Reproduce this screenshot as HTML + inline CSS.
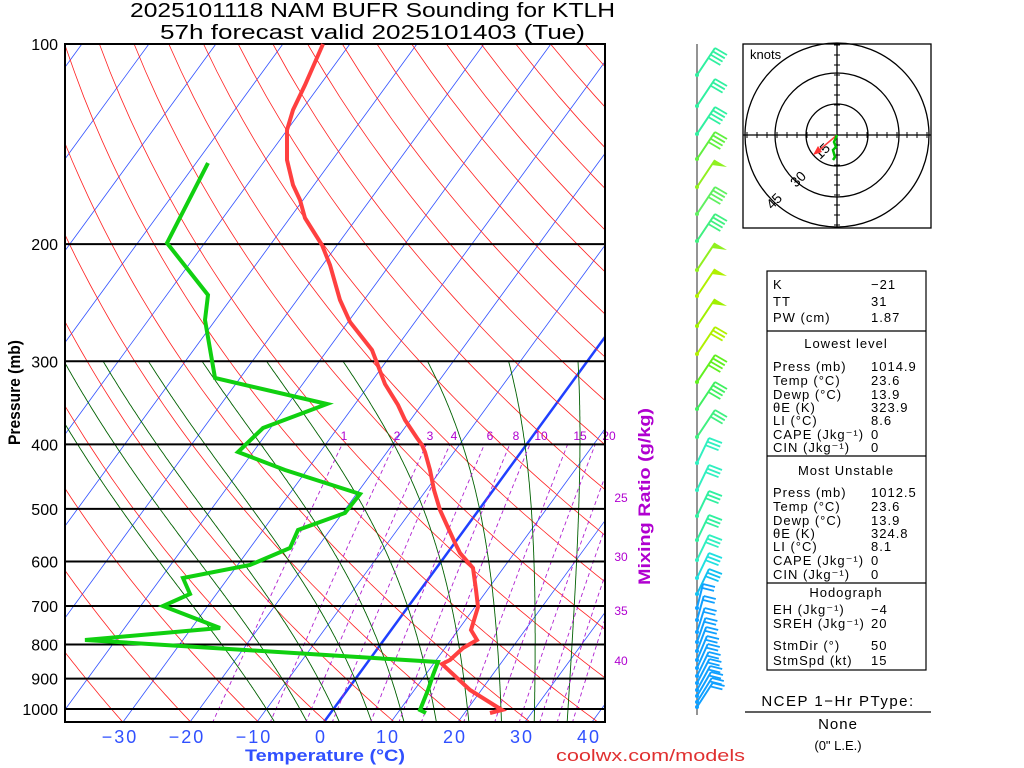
<!DOCTYPE html>
<html><head><meta charset="utf-8"><style>
html,body{margin:0;padding:0;background:#fff;}
svg{display:block;font-family:"Liberation Sans",sans-serif;}
</style></head><body>
<svg id="s" width="1024" height="768" viewBox="0 0 1024 768" xmlns="http://www.w3.org/2000/svg">
<defs><clipPath id="c"><rect x="65" y="44" width="540" height="678"/></clipPath></defs>
<rect width="1024" height="768" fill="#fff"/>
<g id="bg" clip-path="url(#c)"></g>
<g id="fg"></g>
<text x="130" y="17" font-size="20" textLength="485" lengthAdjust="spacingAndGlyphs">2025101118 NAM BUFR Sounding for KTLH</text>
<text x="160" y="39" font-size="20" textLength="425" lengthAdjust="spacingAndGlyphs">57h forecast valid 2025101403 (Tue)</text>
<text transform="translate(20,445) rotate(-90)" font-size="17" font-weight="bold" textLength="105" lengthAdjust="spacingAndGlyphs">Pressure (mb)</text>
<text x="245" y="761" font-size="17" font-weight="bold" fill="#3050ff" textLength="160" lengthAdjust="spacingAndGlyphs">Temperature (°C)</text>
<text x="556" y="761" font-size="17" fill="#e03030" textLength="189" lengthAdjust="spacingAndGlyphs">coolwx.com/models</text>
<text transform="translate(650,585) rotate(-90)" font-size="17" font-weight="bold" fill="#b000d0" textLength="177" lengthAdjust="spacingAndGlyphs">Mixing Ratio (g/kg)</text>
<g stroke="#000" fill="none" stroke-width="1.3">
<rect x="743" y="44" width="188" height="184"/>
<circle cx="837" cy="135" r="31"/><circle cx="837" cy="135" r="62"/><circle cx="837" cy="135" r="92"/>
<line x1="743" y1="135" x2="931" y2="135"/><line x1="837" y1="44" x2="837" y2="228"/>
</g>
<g id="hodt" stroke="#000" stroke-width="1"></g>
<text x="750" y="59" font-size="13">knots</text>
<text transform="translate(820,160) rotate(-45)" font-size="14">15</text>
<text transform="translate(796,188) rotate(-45)" font-size="14">30</text>
<text transform="translate(772,210) rotate(-45)" font-size="14">45</text>
<line x1="837" y1="135" x2="817" y2="152" stroke="#ff4040" stroke-width="1.5"/>
<polygon points="813,155 818,146 822,152" fill="#ff3030"/>
<polyline points="837,135 834,142 836,147 833,150 835,157 833,160" stroke="#00c000" stroke-width="2.5" fill="none"/>
<g stroke="#000" fill="none" stroke-width="1.2">
<rect x="767" y="271" width="159" height="399"/>
<line x1="767" y1="331" x2="926" y2="331"/><line x1="767" y1="456" x2="926" y2="456"/><line x1="767" y1="583" x2="926" y2="583"/>
<line x1="745" y1="712" x2="931" y2="712"/>
</g>
<g font-size="13" id="tbl"></g>
</svg>
<script>
const NS="http://www.w3.org/2000/svg";
const bg=document.getElementById('bg'),fg=document.getElementById('fg');
function el(p,t,a,txt){const e=document.createElementNS(NS,t);for(const k in a)e.setAttribute(k,a[k]);if(txt!==undefined)e.textContent=txt;p.appendChild(e);return e;}
const Y=p=>44+665*Math.log10(p/100);
const X=(T,p)=>324+6.7*T+0.73*(722-Y(p));
function pl(g,pts,st,w,da){el(g,'polyline',{points:pts.map(q=>q[0].toFixed(1)+','+q[1].toFixed(1)).join(' '),fill:'none',stroke:st,'stroke-width':w,...(da?{'stroke-dasharray':da}:{})});}
for(let T=-150;T<=50;T+=10){const pts=[[X(T,1050),Y(1050)],[X(T,100),Y(100)]];pl(bg,pts,T==0?'#2040ff':'#3050ff',T==0?2.5:0.8);}
for(let th=200;th<=560;th+=10){const pts=[];for(let p=1050;p>=100;p-=10){pts.push([X(th*Math.pow(p/1000,0.2857)-273.15,p),Y(p)]);}pl(bg,pts,'#ff2020',0.8);}
function es(T){return 6.112*Math.exp(17.67*T/(T+243.5));}
function ws(T,p){const e=es(T);return 0.622*e/(p-e);}
function dT(T,p){const Tk=T+273.15,w=ws(T,p),L=2.5e6,Rd=287,cp=1004,eps=0.622;
 const num=Rd*Tk+L*w, den=cp+L*L*w*eps/(Rd*Tk*Tk); return num/den/p;}
for(let T0=-10;T0<=35;T0+=5){let T=T0,p;const pts=[];
 let tt=T0;for(let pp=1000;pp<1050;pp++){tt+=dT(tt,pp);} pts.push([X(tt,1050),Y(1050)]);
 for(p=1000;p>=300;p-=2){pts.push([X(T,p),Y(p)]);T-=dT(T,p)*2;}
 pl(bg,pts,'#006000',0.9);}
const mrs=[1,2,3,4,6,8,10,15,20,25,30,35,40];
for(const w of mrs){const pts=[];for(let p=1050;p>=400;p-=10){const e=w*p/(622+w);const l=Math.log(e/6.112);const T=243.5*l/(17.67-l);pts.push([X(T,p),Y(p)]);}
 pl(bg,pts,'#b020d0',0.9,'4,3');}
[[1,344],[2,397],[3,430],[4,454],[6,490],[8,516],[10,541],[15,580],[20,609]].forEach(a=>el(fg,'text',{x:a[1],y:440,'font-size':12,fill:'#b000d0','text-anchor':'middle'},a[0]));
[[25,502],[30,561],[35,615],[40,665]].forEach(a=>el(fg,'text',{x:621,y:a[1],'font-size':12,fill:'#b000d0','text-anchor':'middle'},a[0]));
for(let p=100;p<=1000;p+=100){el(fg,'line',{x1:65,x2:605,y1:Y(p),y2:Y(p),stroke:'#000','stroke-width':2});
 if(p<=200||p>=300)el(fg,'text',{x:58,y:Y(p)+6,'font-size':16,'text-anchor':'end'},p);}
el(fg,'rect',{x:65,y:44,width:540,height:678,fill:'none',stroke:'#000','stroke-width':2});
for(let T=-30;T<=40;T+=10){el(fg,'text',{x:324+6.7*T-3,y:743,'font-size':18,fill:'#3050ff','text-anchor':'middle','letter-spacing':2},T<0?'\u2212'+(-T):T);}
const tp=[[490,713],[502,710],[470,690],[442,664],[450,660],[463,648],[477,640],[471,630],[478,607],[476,590],[473,568],[460,553],[455,543],[440,510],[434,490],[430,470],[425,452],[422,445],[417,438],[405,420],[398,405],[385,384],[372,350],[350,322],[340,300],[330,265],[322,245],[305,218],[300,200],[293,185],[287,160],[287,130],[293,110],[305,85],[316,60],[323,44]];
pl(fg,tp,'#ff4040',4);
const dp=[[426,713],[420,710],[428,690],[433,675],[438,662],[85,640],[220,628],[163,606],[190,594],[183,578],[250,565],[290,548],[298,530],[345,513],[360,494],[285,470],[238,452],[263,428],[327,404],[215,378],[205,320],[208,295],[167,243],[208,163]];
pl(fg,dp,'#10d010',4);
el(fg,'line',{x1:697,y1:44,x2:697,y2:715,stroke:'#707070','stroke-width':1.5});
const ys=[75,106,134,159,187,214,241,270,296,326,354,382,409,437,463,490,516,540,560,578,594,608,620,632,642,651,660,668,676,683,690,696,702,707];
const cols=['#30f0a0','#30f0a0','#30f0a0','#60f040','#90f020','#60f060','#40f080','#90f020','#b0f000','#a0f000','#b0f000','#60f020','#40f060','#40f080','#30f0c0','#30f0c0','#30f0a0','#30f0a0','#30f0c0','#20e0e0','#10c0f0'];
ys.forEach((y,i)=>{const c=i<cols.length?cols[i]:'#10a0ff';
 let dx,dy,bdx,bdy;
 if(i<14){dx=18;dy=-27;bdx=12;bdy=7;}
 else if(i<21){dx=12;dy=-25;bdx=13;bdy=5;}
 else {dx=6+(i-21)*0.8;dy=-24;bdx=12;bdy=3;}
 el(fg,'line',{x1:697,y1:y,x2:697+dx,y2:y+dy,stroke:c,'stroke-width':2});
 el(fg,'circle',{cx:697,cy:y,r:2,fill:c});
 const nb=i<14?(i%3==1?3:4):(i<21?3:2);
 const L=Math.hypot(dx,dy),ux=dx/L,uy=dy/L;
 if(i==4||i==8||i==9||i==7){el(fg,'polygon',{points:`${697+dx},${y+dy} ${697+dx+bdx},${y+dy+bdy} ${697+dx-ux*6},${y+dy-uy*6}`,fill:c});return;}
 for(let j=0;j<nb;j++){const bx=697+dx-ux*j*4,by=y+dy-uy*j*4;el(fg,'line',{x1:bx,y1:by,x2:bx+bdx,y2:by+bdy,stroke:c,'stroke-width':1.8});}});
const ht=document.getElementById('hodt');
for(let d=-90;d<=90;d+=10){if(d==0)continue;el(ht,'line',{x1:837+d,y1:132,x2:837+d,y2:138});el(ht,'line',{x1:834,y1:135+d,x2:840,y2:135+d});}
const tb=document.getElementById('tbl');
const rows=[['K','\u221221',289],['TT','31',306],['PW (cm)','1.87',322],
['Press (mb)','1014.9',371],['Temp (°C)','23.6',385],['Dewp (°C)','13.9',399],['θE (K)','323.9',412],['LI (°C)','8.6',425],['CAPE (Jkg⁻¹)','0',439],['CIN (Jkg⁻¹)','0',452],
['Press (mb)','1012.5',497],['Temp (°C)','23.6',511],['Dewp (°C)','13.9',525],['θE (K)','324.8',538],['LI (°C)','8.1',551],['CAPE (Jkg⁻¹)','0',565],['CIN (Jkg⁻¹)','0',579],
['EH (Jkg⁻¹)','\u22124',614],['SREH (Jkg⁻¹)','20',628],['StmDir (°)','50',650],['StmSpd (kt)','15',665]];
rows.forEach(r=>{el(tb,'text',{x:773,y:r[2],'letter-spacing':1},r[0]);el(tb,'text',{x:871,y:r[2],'letter-spacing':1},r[1]);});
[['Lowest level',348],['Most Unstable',475],['Hodograph',597]].forEach(a=>el(tb,'text',{x:846,y:a[1],'text-anchor':'middle','letter-spacing':1},a[0]));
el(tb,'text',{x:838,y:706,'text-anchor':'middle','font-size':15,'letter-spacing':1.5},'NCEP 1\u2212Hr PType:');
el(tb,'text',{x:838,y:729,'text-anchor':'middle','font-size':15,'letter-spacing':1},'None');
el(tb,'text',{x:838,y:750,'text-anchor':'middle'},'(0" L.E.)');
</script>
</body></html>
